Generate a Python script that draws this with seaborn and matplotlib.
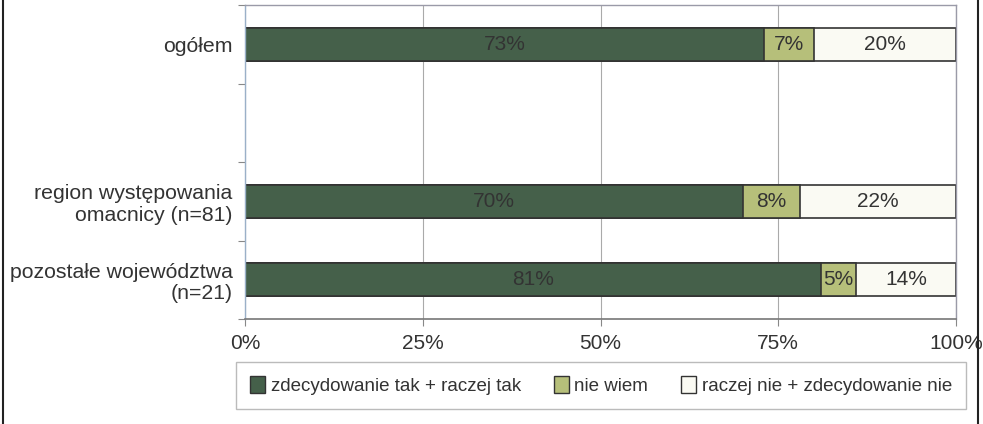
import matplotlib
matplotlib.use("Agg")
import matplotlib.pyplot as plt
import seaborn as sns
import pandas as pd
from matplotlib.lines import Line2D
from matplotlib.patches import Patch

# ---- data ----
categories = ["ogółem", "", "region występowania\nomacnicy (n=81)", "pozostałe województwa\n(n=21)"]
groups = ["ogółem", "region występowania\nomacnicy (n=81)", "pozostałe województwa\n(n=21)"]
yes_vals = [73, 70, 81]
dont_know_vals = [7, 8, 5]
no_vals = [20, 22, 14]
series_names = ["zdecydowanie tak + raczej tak", "nie wiem", "raczej nie + zdecydowanie nie"]
series_colors = ["#45604a", "#b6bf7a", "#fafaf3"]
xticks = [0, 25, 50, 75, 100]
xtick_labels = ["0%", "25%", "50%", "75%", "100%"]

sns.set_theme(style="white")
plt.rcParams["font.family"] = ["Liberation Sans", "DejaVu Sans"]

df = pd.DataFrame({"group": groups, "yes": yes_vals, "dk": dont_know_vals, "no": no_vals})
df["c1"] = df["yes"]
df["c2"] = df["yes"] + df["dk"]
df["c3"] = df["yes"] + df["dk"] + df["no"]

fig = plt.figure(figsize=(9.83, 4.24), dpi=100)
ax = fig.add_axes([245 / 983, 1 - 319 / 424, (956 - 245) / 983, (319 - 5) / 424])

for col, color in zip(["c3", "c2", "c1"], series_colors[::-1]):
    sns.barplot(data=df, x=col, y="group", order=categories, orient="h",
                color=color, saturation=1, width=0.42, edgecolor="#333333",
                linewidth=1.2, ax=ax, errorbar=None)

# labels in segment centers
for i, g in enumerate(groups):
    ypos = categories.index(g)
    starts = [0, yes_vals[i], yes_vals[i] + dont_know_vals[i]]
    vals = [yes_vals[i], dont_know_vals[i], no_vals[i]]
    for s, v in zip(starts, vals):
        ax.text(s + v / 2, ypos, f"{v}%", ha="center", va="center",
                fontsize=15, color="#333333")

ax.set_xlim(0, 100)
ax.set_ylim(3.5, -0.5)
ax.set_xticks(xticks)
ax.set_xticklabels(xtick_labels, fontsize=15, color="#333333")
ax.set_xlabel("")
ax.set_ylabel("")
ax.set_yticks(range(len(categories)))
ax.set_yticklabels(categories, fontsize=15.3, color="#333333", linespacing=1.18)
ax.set_yticks([-0.5, 0.5, 1.5, 2.5, 3.5], minor=True)
ax.tick_params(axis="y", which="major", length=0, pad=9)
ax.tick_params(axis="y", which="minor", length=5, width=0.8, color="#888888", direction="out", left=True)
ax.tick_params(axis="x", which="major", length=5, width=0.8, color="#888888", direction="out", bottom=True, pad=6)

ax.grid(axis="x", color="#aaaaaa", linewidth=0.8)
ax.set_axisbelow(True)
for side in ["top", "right"]:
    ax.spines[side].set_color("#9a9aa8")
    ax.spines[side].set_linestyle((0, (2, 1)))
    ax.spines[side].set_linewidth(1.0)
ax.spines["left"].set_color("#9ab0c8")
ax.spines["left"].set_linewidth(1.0)
ax.spines["bottom"].set_color("#777777")
ax.spines["bottom"].set_linewidth(1.2)

handles = [Patch(facecolor=c, edgecolor="#333333", linewidth=1.0) for c in series_colors]
leg = fig.legend(handles, series_names, loc="center", bbox_to_anchor=(601 / 983, 1 - 385.5 / 424),
                 ncol=3, frameon=True, fancybox=False, fontsize=13.5, handlelength=0.8,
                 handleheight=1.0, handletextpad=0.3, columnspacing=1.75, borderpad=0.75,
                 labelcolor="#333333")
leg.get_frame().set_edgecolor("#aaaaaa")
leg.get_frame().set_linewidth(1.0)

# outer frame lines (left and right of the figure)
fig.add_artist(Line2D([3 / 983, 3 / 983], [0, 1], color="#222222", linewidth=1.5))
fig.add_artist(Line2D([978 / 983, 978 / 983], [0, 1], color="#222222", linewidth=1.5))

fig.savefig("out.png", dpi=100)
